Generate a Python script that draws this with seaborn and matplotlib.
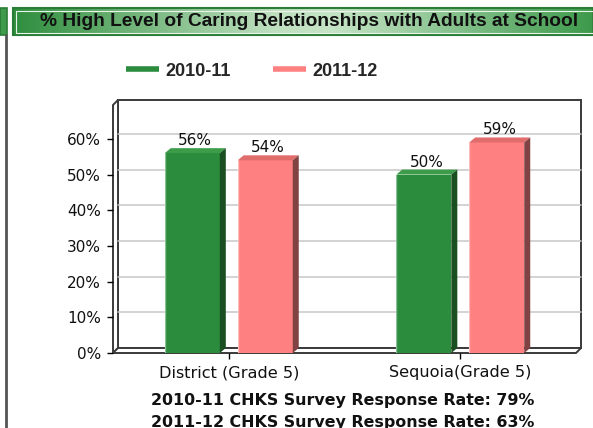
import numpy as np
import pandas as pd
import matplotlib
matplotlib.use("Agg")
import matplotlib.pyplot as plt
import matplotlib.transforms as mtransforms
from matplotlib.patches import Polygon, Rectangle
from matplotlib.lines import Line2D
from matplotlib.colors import LinearSegmentedColormap
import seaborn as sns

# ---------------- data ----------------
schools = ["District (Grade 5)", "Sequoia(Grade 5)"]
years = ["2010-11", "2011-12"]
values_2010_11 = [56, 50]
values_2011_12 = [54, 59]
y_ticks = [0, 10, 20, 30, 40, 50, 60]
title_text = "% High Level of Caring Relationships with Adults at School"
footnotes = ["2010-11 CHKS Survey Response Rate: 79%",
             "2011-12 CHKS Survey Response Rate: 63%"]

df = pd.DataFrame({
    "school": schools * 2,
    "year": [years[0]] * len(schools) + [years[1]] * len(schools),
    "value": values_2010_11 + values_2011_12,
})

GREEN = "#2a8c3c"
GREEN_TOP = "#3c9c4a"
GREEN_SIDE = "#1a4f22"
PINK = "#ff8080"
PINK_TOP = "#e06c6c"
PINK_SIDE = "#804242"

W, H = 593, 428
sns.set_theme(style="white")
plt.rcParams["font.family"] = ["DejaVu Sans"]

fig = plt.figure(figsize=(W / 100, H / 100), dpi=100)
fig.patch.set_facecolor("white")


def fx(px):
    return px / W


def fy(py):
    return 1 - py / H


# ---------------- front plane axes ----------------
L, B, R, T = 113, 353, 576, 105
D = 5  # depth of the 3D box in pixels
ax = fig.add_axes([fx(L), fy(B), (R - L) / W, (B - T) / H])
ax.set_xlim(-0.5, 1.5)
ax.set_ylim(0, 69.5)
ax.patch.set_alpha(0)
for s in ax.spines.values():
    s.set_visible(False)

dxa = D / (R - L)
dya = D / (B - T)
edge = "#3a3a3a"
# back wall
ax.add_patch(Polygon([(dxa, dya), (1 + dxa, dya), (1 + dxa, 1 + dya), (dxa, 1 + dya)],
                     closed=True, transform=ax.transAxes, facecolor="white",
                     edgecolor=edge, lw=1.4, zorder=0.2, clip_on=False))
# left wall
ax.add_patch(Polygon([(0, 0), (0, 1), (dxa, 1 + dya), (dxa, dya)], closed=True,
                     transform=ax.transAxes, facecolor="white", edgecolor=edge,
                     lw=1.4, zorder=0.3, clip_on=False))
# floor
ax.add_patch(Polygon([(0, 0), (1, 0), (1 + dxa, dya), (dxa, dya)], closed=True,
                     transform=ax.transAxes, facecolor="white", edgecolor=edge,
                     lw=1.4, zorder=0.3, clip_on=False))

# gridlines on the back wall
grid_tr = mtransforms.offset_copy(ax.get_yaxis_transform(), fig=fig, x=D, y=D, units="dots")
for v in y_ticks[1:]:
    ax.plot([0, 1], [v, v], transform=grid_tr, color="#c8c8c8", lw=1.1,
            zorder=0.5, clip_on=False)

# ---------------- bars ----------------
sns.barplot(data=df, x="school", y="value", hue="year", hue_order=years,
            order=schools, palette=[GREEN, PINK], width=0.63, gap=0.245,
            saturation=1, legend=False, ax=ax, zorder=2, edgecolor="none",
            linewidth=0)
ax.set_xlim(-0.5, 1.5)
ax.set_ylim(0, 69.5)

px_x = (R - L) / 2.0
px_y = (B - T) / 69.5
bdx, bdy = 6 / px_x, 5 / px_y
for p in ax.patches:
    if not isinstance(p, Rectangle) or p.get_height() <= 0:
        continue
    x0, w, h = p.get_x(), p.get_width(), p.get_height()
    is_green = np.allclose(matplotlib.colors.to_rgb(p.get_facecolor()),
                           matplotlib.colors.to_rgb(GREEN), atol=0.02)
    top_c = GREEN_TOP if is_green else PINK_TOP
    side_c = GREEN_SIDE if is_green else PINK_SIDE
    x1 = x0 + w
    ax.add_patch(Polygon([(x0, h), (x1, h), (x1 + bdx, h + bdy), (x0 + bdx, h + bdy)],
                         closed=True, facecolor=top_c, edgecolor="none", zorder=2.1))
    ax.add_patch(Polygon([(x1, 0), (x1, h), (x1 + bdx, h + bdy), (x1 + bdx, bdy)],
                         closed=True, facecolor=side_c, edgecolor="none", zorder=2.1))
    ax.plot([x0, x0], [0, h], color="white", alpha=0.45, lw=1, zorder=2.2)
    ax.annotate(f"{h:.0f}%", (x0 + w / 2, h), xytext=(3, 8),
                textcoords="offset pixels", ha="center", va="baseline",
                fontsize=11, color="#111111", zorder=3)

# ---------------- ticks ----------------
ax.set_yticks(y_ticks)
ax.set_yticklabels([f"{v}%" for v in y_ticks])
ax.set_xticks(range(len(schools)))
ax.set_xticklabels(schools)
ax.set_xlabel("")
ax.set_ylabel("")
ax.tick_params(axis="y", left=True, length=4.5, width=1, color="black",
               labelsize=11, pad=4, labelcolor="#111111")
ax.tick_params(axis="x", bottom=True, length=4, width=1, color="black",
               labelsize=11.6, pad=5, labelcolor="#111111")

# ---------------- legend ----------------
handles = [Line2D([], [], color=GREEN, lw=4, solid_capstyle="butt"),
           Line2D([], [], color=PINK, lw=4, solid_capstyle="butt")]
fig.legend(handles, years, ncol=2, loc="center left",
           bbox_to_anchor=(fx(126), fy(71)), frameon=False,
           handlelength=1.8, handletextpad=0.37, columnspacing=2.36,
           borderpad=0, borderaxespad=0,
           prop=dict(family="Liberation Sans", weight="bold", size=13))

# ---------------- footnotes ----------------
fig.text(fx(343), fy(401), footnotes[0], ha="center", va="center",
         fontsize=11.4, fontweight="bold", color="#111111")
fig.text(fx(343), fy(422), footnotes[1], ha="center", va="center",
         fontsize=11.4, fontweight="bold", color="#111111")

# ---------------- title bar ----------------
cmap = LinearSegmentedColormap.from_list(
    "tb", [(0, "#2f8e3e"), (0.45, "#bfe0bf"), (0.55, "#c6e4c6"), (1, "#3e9a4c")])
tax = fig.add_axes([fx(13), fy(35), 1 - fx(13), 27 / H])
tax.imshow(np.linspace(0, 1, 256)[None, :], aspect="auto", cmap=cmap,
           extent=(0, 1, 0, 1))
tax.set_xlim(0, 1)
tax.set_ylim(0, 1)
tax.axis("off")
fig.add_artist(Rectangle((fx(13), fy(35)), 1 - fx(13), 27 / H,
                         transform=fig.transFigure, fill=False,
                         edgecolor="#2a7d36", lw=1.5))
fig.add_artist(Rectangle((fx(15.5), fy(32.5)), 1 - fx(15.5), 22 / H,
                         transform=fig.transFigure, fill=False,
                         edgecolor="#e8f4e8", lw=0.8))
fig.text(fx(309), fy(21.5), title_text, ha="center", va="center",
         fontsize=13.8, fontweight="bold", family="Liberation Sans",
         color="#111111")

# left stub box and vertical line
fig.add_artist(Rectangle((0, fy(35)), fx(7), 27 / H, transform=fig.transFigure,
                         facecolor="#3f9a4c", edgecolor="#2a7d36", lw=1.2))
fig.add_artist(Line2D([fx(5.5), fx(5.5)], [0, fy(35)], transform=fig.transFigure,
                      color="#555555", lw=2))

fig.savefig("out.png", dpi=100, facecolor="white")
